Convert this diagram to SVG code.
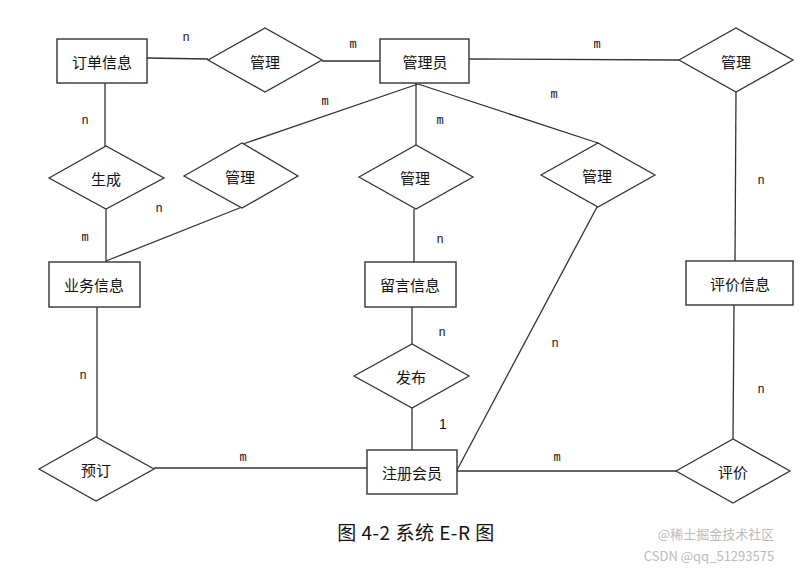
<svg xmlns="http://www.w3.org/2000/svg" width="810" height="570" viewBox="0 0 810 570">
<style>
.ent rect{fill:#fff;stroke:#333;stroke-width:1.4}
.rel polygon{fill:#fff;stroke:#333;stroke-width:1.3}
.lbl{font-family:"Noto Sans CJK SC","Noto Sans",sans-serif;font-size:15px;fill:#111;text-anchor:middle;dominant-baseline:central}
#connectors line{stroke:#333;stroke-width:1.3}
.card{font-family:"Liberation Mono","DejaVu Sans Mono",monospace;font-size:12px;fill:#111;text-anchor:middle}
.cap{font-family:"Noto Sans CJK SC","Noto Sans",sans-serif;font-size:19px;fill:#111;text-anchor:middle}
.wm{font-family:"Noto Sans CJK SC","Noto Sans",sans-serif;font-size:13px;fill:#bbb;text-anchor:middle}
</style>
<rect width="810" height="570" fill="#fff"/>
<g id="connectors">
<line x1="147" y1="58" x2="208" y2="59"/>
<line x1="322" y1="61" x2="380" y2="61"/>
<line x1="469" y1="59" x2="679" y2="60"/>
<line x1="736" y1="92" x2="735" y2="261"/>
<line x1="734" y1="305" x2="733" y2="439"/>
<line x1="105" y1="83" x2="105" y2="146"/>
<line x1="106" y1="209" x2="106" y2="262"/>
<line x1="418" y1="84" x2="243" y2="144"/>
<line x1="242" y1="207" x2="106" y2="261"/>
<line x1="416" y1="83" x2="416" y2="145"/>
<line x1="414" y1="209" x2="414" y2="262"/>
<line x1="412" y1="307" x2="412" y2="344"/>
<line x1="412" y1="408" x2="412" y2="450"/>
<line x1="418" y1="84" x2="598" y2="143"/>
<line x1="597" y1="207" x2="457" y2="470"/>
<line x1="457" y1="471" x2="676" y2="471"/>
<line x1="154" y1="468" x2="367" y2="468"/>
<line x1="97" y1="307" x2="97" y2="437"/>
</g>
<g id="cardinalities">
<text class="card" x="186" y="41">n</text>
<text class="card" x="353" y="48">m</text>
<text class="card" x="597" y="48">m</text>
<text class="card" x="761" y="184">n</text>
<text class="card" x="761" y="393">n</text>
<text class="card" x="85" y="124">n</text>
<text class="card" x="85" y="241">m</text>
<text class="card" x="325" y="105">m</text>
<text class="card" x="159" y="212">n</text>
<text class="card" x="440" y="124">m</text>
<text class="card" x="440" y="243">n</text>
<text class="card" x="442" y="336">n</text>
<text x="443" y="429" style="font-family:'Liberation Sans',sans-serif;font-size:14px;fill:#111;text-anchor:middle">1</text>
<text class="card" x="554" y="98">m</text>
<text class="card" x="555" y="347">n</text>
<text class="card" x="557" y="461">m</text>
<text class="card" x="243" y="461">m</text>
<text class="card" x="83" y="379">n</text>
</g>
<g id="order" class="ent"><rect x="57" y="39" width="90" height="44"/><text class="lbl" x="102" y="61">订单信息</text></g>
<g id="admin" class="ent"><rect x="380" y="39" width="89" height="44"/><text class="lbl" x="425" y="61">管理员</text></g>
<g id="business" class="ent"><rect x="49" y="262" width="91" height="45"/><text class="lbl" x="94" y="284">业务信息</text></g>
<g id="message" class="ent"><rect x="365" y="262" width="91" height="45"/><text class="lbl" x="410" y="284">留言信息</text></g>
<g id="review" class="ent"><rect x="686" y="261" width="107" height="44"/><text class="lbl" x="740" y="283">评价信息</text></g>
<g id="member" class="ent"><rect x="367" y="450" width="90" height="44"/><text class="lbl" x="412" y="472">注册会员</text></g>
<g id="manage1" class="rel"><polygon points="208,60 265,28 322,60 265,92"/><text class="lbl" x="265" y="61">管理</text></g>
<g id="manage2" class="rel"><polygon points="679,60 736,28 793,60 736,92"/><text class="lbl" x="736" y="61">管理</text></g>
<g id="generate" class="rel"><polygon points="49,178 106,146 164,178 106,209"/><text class="lbl" x="106" y="178">生成</text></g>
<g id="manage3" class="rel"><polygon points="184,176 242,143 298,176 242,208"/><text class="lbl" x="240" y="176">管理</text></g>
<g id="manage4" class="rel"><polygon points="359,177 416,145 473,177 416,209"/><text class="lbl" x="415" y="177">管理</text></g>
<g id="manage5" class="rel"><polygon points="541,175 598,143 655,175 598,207"/><text class="lbl" x="597" y="175">管理</text></g>
<g id="publish" class="rel"><polygon points="354,376 412,344 469,376 412,408"/><text class="lbl" x="411" y="376">发布</text></g>
<g id="reserve" class="rel"><polygon points="39,469 96,437 154,469 96,501"/><text class="lbl" x="96" y="469">预订</text></g>
<g id="evaluate" class="rel"><polygon points="676,471 733,439 790,471 733,503"/><text class="lbl" x="733" y="471">评价</text></g>
<text class="cap" x="416" y="540" letter-spacing="0.5">图 4-2 系统 E-R 图</text>
<text class="wm" x="716" y="539">@稀土掘金技术社区</text>
<text class="wm" x="709" y="561">CSDN @qq_51293575</text>
</svg>
